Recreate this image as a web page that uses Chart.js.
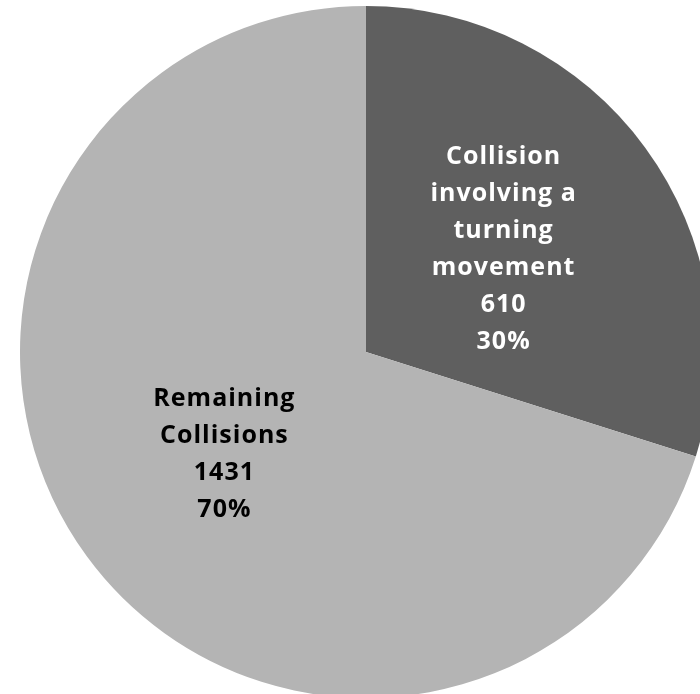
<!DOCTYPE html>
<html>
<head>
<meta charset="utf-8">
<script src="https://cdn.jsdelivr.net/npm/chart.js@4"></script>
<style>
  html, body { margin: 0; padding: 0; background: #fff; overflow: hidden; width: 700px; height: 694px; }
  #wrap { position: absolute; left: 20px; top: 6px; width: 692px; height: 692px; }
</style>
</head>
<body>
<div id="wrap"><canvas id="pie" width="692" height="692"></canvas></div>
<script>
const categories = [
  ['Collision', 'involving a', 'turning', 'movement'],
  ['Remaining', 'Collisions']
];
const counts = [610, 1431];
const percents = ['30%', '70%'];
const sliceColors = ['#5f5f5f', '#b4b4b4'];
const labelColors = ['#ffffff', '#000000'];

// writes the category, count and percent inside each slice
const sliceLabels = {
  id: 'sliceLabels',
  afterDatasetsDraw(chart) {
    const ctx = chart.ctx;
    const meta = chart.getDatasetMeta(0);
    ctx.save();
    ctx.font = 'bold 25px "Open Sans"';
    ctx.letterSpacing = '1px';
    ctx.textAlign = 'center';
    ctx.textBaseline = 'middle';
    const lineH = 37;
    meta.data.forEach((arc, i) => {
      const pos = arc.tooltipPosition();
      const lines = categories[i].concat([String(counts[i]), percents[i]]);
      const top = pos.y - (lines.length - 1) * lineH / 2;
      ctx.fillStyle = labelColors[i];
      lines.forEach((t, k) => ctx.fillText(t, pos.x - 2, top + k * lineH));
    });
    ctx.restore();
  }
};

new Chart(document.getElementById('pie'), {
  type: 'pie',
  data: {
    labels: categories.map(c => c.join(' ')),
    datasets: [{
      data: counts,
      backgroundColor: sliceColors,
      borderWidth: 0
    }]
  },
  options: {
    responsive: false,
    animation: false,
    layout: { padding: 0 },
    plugins: {
      legend: { display: false },
      tooltip: { enabled: false }
    }
  },
  plugins: [sliceLabels]
});
</script>
</body>
</html>
